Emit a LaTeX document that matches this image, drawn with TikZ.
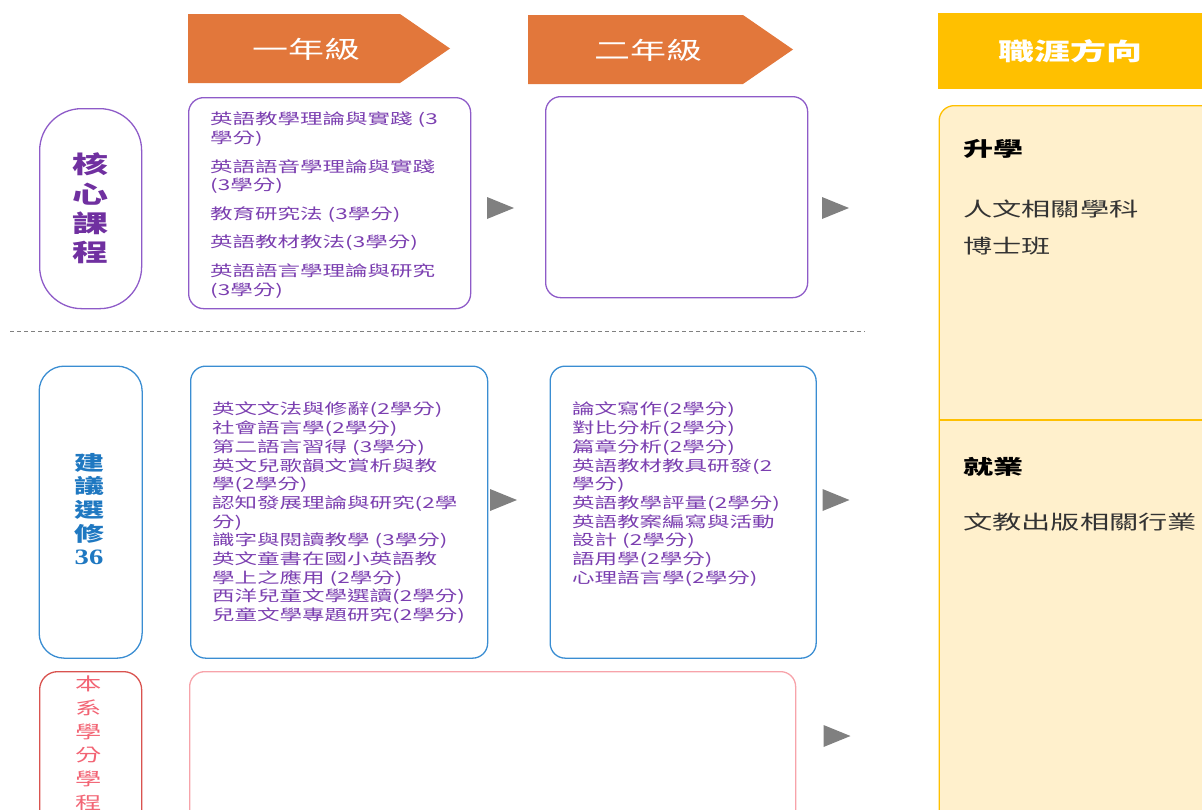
\documentclass[tikz,border=0pt]{standalone}
\usepackage{fontspec}
\usepackage{tikz}
\usetikzlibrary{positioning}
\newfontfamily\tcfont[FakeStretch=1.5]{Noto Sans CJK TC}
\newfontfamily\numfont[FakeStretch=1.3]{Liberation Serif}
\definecolor{yearorange}{HTML}{E2773B}
\definecolor{corepurple}{HTML}{8E5BC8}
\definecolor{coretext}{HTML}{7030A0}
\definecolor{itempurple}{HTML}{7B3FB0}
\definecolor{electblue}{HTML}{3A8DD2}
\definecolor{electtext}{HTML}{1F78C1}
\definecolor{progred}{HTML}{D9534F}
\definecolor{progtext}{HTML}{F26474}
\definecolor{progpink}{HTML}{F7A3AA}
\definecolor{careergold}{HTML}{FFC000}
\definecolor{careerfill}{HTML}{FFF0CC}
\definecolor{arrowgray}{HTML}{808080}

\begin{document}
\begin{tikzpicture}[x=1pt,y=-1pt,
box/.style={draw, rectangle, rounded corners=15pt, line width=1.3pt, anchor=north west, inner sep=0pt},
pill/.style={box, rounded corners=40pt},
items/.style={anchor=north west, align=left, inner sep=0pt, text=itempurple, font=\tcfont\fontsize{15}{18.7}\selectfont},
vlabel/.style={align=center, inner sep=0pt},
head/.style={text=white, inner sep=0pt, font=\tcfont\fontsize{24}{28}\selectfont},
career/.style={anchor=west, inner sep=0pt, text=black!80, font=\tcfont\fontsize{19.5}{24}\selectfont},
careerbold/.style={career, text=black, font=\tcfont\bfseries\fontsize{20}{24}\selectfont},
]
\path[use as bounding box, clip] (0,0) rectangle (1202,809);

% year headers
\fill[yearorange] (188,14) -- (400,14) -- (450,48.5) -- (400,83) -- (188,83) -- cycle;
\node[head] (yearone) at (306,49) {一年級};
\fill[yearorange] (528,15) -- (743,15) -- (793,49.5) -- (743,84) -- (528,84) -- cycle;
\node[head] (yeartwo) at (648,50) {二年級};
\node[head, fill=careergold, anchor=north west, minimum width=264pt, minimum height=76pt, font=\tcfont\bfseries\fontsize{24}{28}\selectfont] (careerhead) at (938,13) {職涯方向};

% core courses
\node[pill, draw=corepurple, minimum width=102pt, minimum height=200pt, rounded corners=42pt] (corepill) at (39,108) {};
\node[vlabel, text=coretext, font=\tcfont\bfseries\fontsize{24}{29.3}\selectfont] (corelabel) at (corepill.center) {核\\心\\課\\程};
\node[box, draw=corepurple, minimum width=282pt, minimum height=211pt] (coreone) at (188,97) {};
\node[items] (coreonetxt) at (210,112) {英語教學理論與實踐 (3\\學分)\\[9.8pt]
英語語音學理論與實踐\\(3學分)\\[9.8pt]
教育研究法 (3學分)\\[9.8pt]
英語教材教法(3學分)\\[9.8pt]
英語語言學理論與研究\\(3學分)};
\node[box, draw=corepurple, minimum width=262pt, minimum height=201pt] (coretwo) at (545,96) {};
\coordinate (corearrowa) at (500.5,208);
\coordinate (corearrowb) at (835.5,208);

%%% dashed split
\draw[arrowgray, line width=0.9pt, dash pattern=on 4pt off 3pt] (10,331) -- (865,331);

% suggested electives
\node[pill, draw=electblue, minimum width=103pt, minimum height=292pt, rounded corners=25pt] (electpill) at (38.5,365.5) {};
\node[vlabel, text=electtext, font=\tcfont\bfseries\fontsize{20}{23.7}\selectfont] (electlabel) at (89,509) {建\\議\\選\\修\\{\numfont\fontsize{22}{23.7}\selectfont 36}};
\node[box, draw=electblue, minimum width=297pt, minimum height=292pt] (electone) at (190,365.5) {};
\node[items] (electonetxt) at (212,402) {英文文法與修辭(2學分)\\
社會語言學(2學分)\\
第二語言習得 (3學分)\\
英文兒歌韻文賞析與教\\
學(2學分)\\
認知發展理論與研究(2學\\
分)\\
識字與閱讀教學 (3學分)\\
英文童書在國小英語教\\
學上之應用 (2學分)\\
西洋兒童文學選讀(2學分)\\
兒童文學專題研究(2學分)};
\node[box, draw=electblue, minimum width=266pt, minimum height=292pt] (electtwo) at (549.5,365.5) {};
\node[items] (electtwotxt) at (572,402) {論文寫作(2學分)\\
對比分析(2學分)\\
篇章分析(2學分)\\
英語教材教具研發(2\\
學分)\\
英語教學評量(2學分)\\
英語教案編寫與活動\\
設計 (2學分)\\
語用學(2學分)\\
心理語言學(2學分)};
\coordinate (electarrowa) at (503.5,500);
\coordinate (electarrowb) at (836,500);

% department credit program
\node[pill, draw=progred, minimum width=102pt, minimum height=170pt, rounded corners=18pt] (progpill) at (39,671) {};
\node[vlabel, anchor=north, text=progtext, font=\tcfont\fontsize{17.5}{23.7}\selectfont] (proglabel) at (89,676) {本\\系\\學\\分\\學\\程};
\node[box, draw=progpink, minimum width=606pt, minimum height=170pt] (progbox) at (189,671) {};
\coordinate (progarrow) at (837,736);

% gray step markers
\foreach \p in {corearrowa,corearrowb,electarrowa,electarrowb,progarrow}
  \fill[arrowgray] (\p) ++(-13.5,-11) -- ++(27,11) -- ++(-27,11) -- cycle;

% career directions
\node[box, draw=careergold, fill=careerfill, minimum width=290pt, minimum height=740pt] (careerbox) at (938.5,105) {};
\coordinate (split) at (938.5,420);
\draw[careergold, line width=1.2pt] (split) -- (split -| careerbox.east);
\node[careerbold] (further) at (963,149) {升學};
\node[career] (humanities) at (963,209) {人文相關學科};
\node[career] (phd) at (963,246) {博士班};
\node[careerbold] (employ) at (963,467) {就業};
\node[career] (publishing) at (963,522) {文教出版相關行業};
\end{tikzpicture}
\end{document}
